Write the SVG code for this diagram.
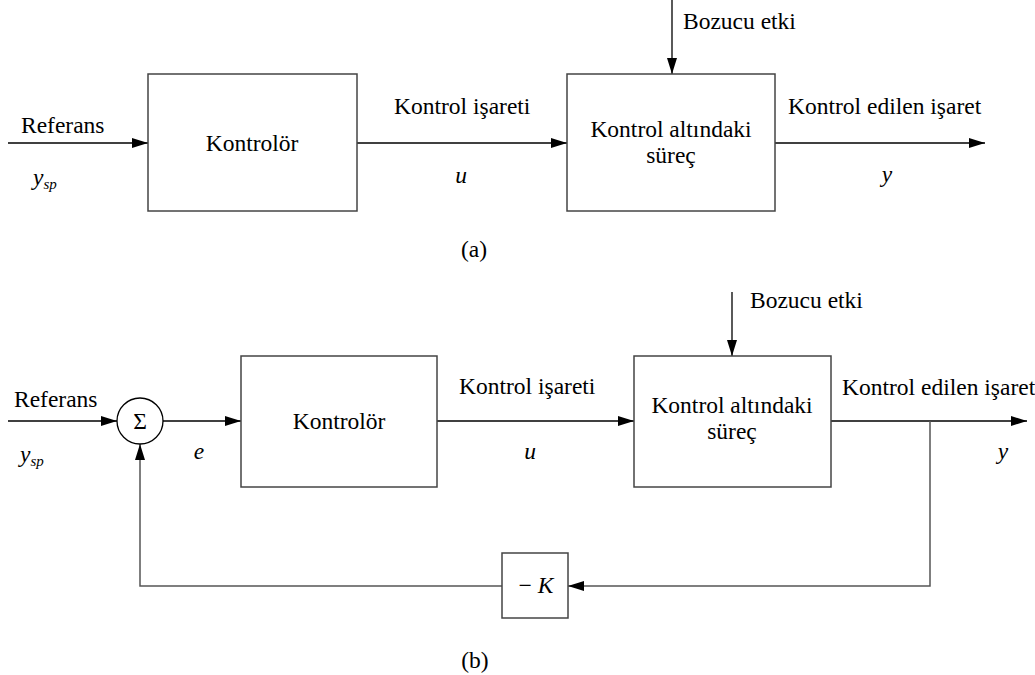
<svg xmlns="http://www.w3.org/2000/svg" width="1035" height="675" viewBox="0 0 1035 675">
<style>
text{font-family:"Liberation Serif","Times New Roman",serif;font-size:23.5px;fill:#000}
.i{font-style:italic}
.sub{font-size:15px;font-style:italic}
.box{fill:#fff;stroke:#444;stroke-width:1.5}
.ln{fill:none;stroke:#000;stroke-width:1.3}
.fb{fill:none;stroke:#555;stroke-width:1.5}
.m{text-anchor:middle}
</style>
<defs>
<marker id="ah" markerWidth="16" markerHeight="10" refX="16" refY="5" orient="auto" markerUnits="userSpaceOnUse">
<path d="M0,0 L16,5 L0,10 Z" fill="#000"/>
</marker>
</defs>
<rect width="1035" height="675" fill="#fff"/>
<g id="connectors">
<line class="ln" x1="8" y1="143" x2="148" y2="143" marker-end="url(#ah)"/>
<line class="ln" x1="357" y1="143" x2="567" y2="143" marker-end="url(#ah)"/>
<line class="ln" x1="672" y1="0" x2="672" y2="74" marker-end="url(#ah)"/>
<line class="ln" x1="775" y1="143" x2="985" y2="143" marker-end="url(#ah)"/>
<line class="ln" x1="8" y1="421" x2="117" y2="421" marker-end="url(#ah)"/>
<line class="ln" x1="163" y1="421" x2="241" y2="421" marker-end="url(#ah)"/>
<line class="ln" x1="437" y1="421" x2="634" y2="421" marker-end="url(#ah)"/>
<line class="ln" x1="732" y1="292" x2="732" y2="356" marker-end="url(#ah)"/>
<line class="ln" x1="831" y1="421" x2="1027" y2="421" marker-end="url(#ah)"/>
<polyline class="fb" points="930,421 930,586 568,586" marker-end="url(#ah)"/>
<polyline class="fb" points="502,586 140,586 140,444" marker-end="url(#ah)"/>
</g>
<g id="labels-a">
<text x="21" y="133">Referans</text>
<text x="33" y="185" class="i">y<tspan class="sub" dy="4">sp</tspan></text>
<text x="394" y="114">Kontrol işareti</text>
<text x="461" y="183" class="i m">u</text>
<text x="683" y="29">Bozucu etki</text>
<text x="788" y="114">Kontrol edilen işaret</text>
<text x="887" y="182" class="i m">y</text>
<text x="474" y="257" class="m">(a)</text>
</g>
<g id="controller-a">
<rect class="box" x="148" y="74" width="209" height="137"/>
<text x="252" y="151" class="m">Kontrolör</text>
</g>
<g id="process-a">
<rect class="box" x="567" y="74" width="208" height="137"/>
<text x="671" y="137" class="m">Kontrol altındaki</text>
<text x="671" y="163" class="m">süreç</text>
</g>
<g id="labels-b">
<text x="14" y="407">Referans</text>
<text x="20" y="462" class="i">y<tspan class="sub" dy="4">sp</tspan></text>
<text x="199" y="459" class="i m">e</text>
<text x="459" y="394">Kontrol işareti</text>
<text x="530" y="459" class="i m">u</text>
<text x="750" y="308">Bozucu etki</text>
<text x="842" y="395">Kontrol edilen işaret</text>
<text x="1003" y="459" class="i m">y</text>
<text x="475" y="668" class="m">(b)</text>
</g>
<g id="sum">
<circle cx="140" cy="421" r="23" fill="#fff" stroke="#000" stroke-width="1.3"/>
<text x="140" y="429" class="m">Σ</text>
</g>
<g id="controller-b">
<rect class="box" x="241" y="356" width="196" height="131"/>
<text x="339" y="429" class="m">Kontrolör</text>
</g>
<g id="process-b">
<rect class="box" x="634" y="356" width="197" height="131"/>
<text x="732" y="413" class="m">Kontrol altındaki</text>
<text x="732" y="439" class="m">süreç</text>
</g>
<g id="gain">
<rect class="box" x="502" y="553" width="66" height="65"/>
<text x="536" y="593" class="m">− <tspan class="i">K</tspan></text>
</g>
</svg>
